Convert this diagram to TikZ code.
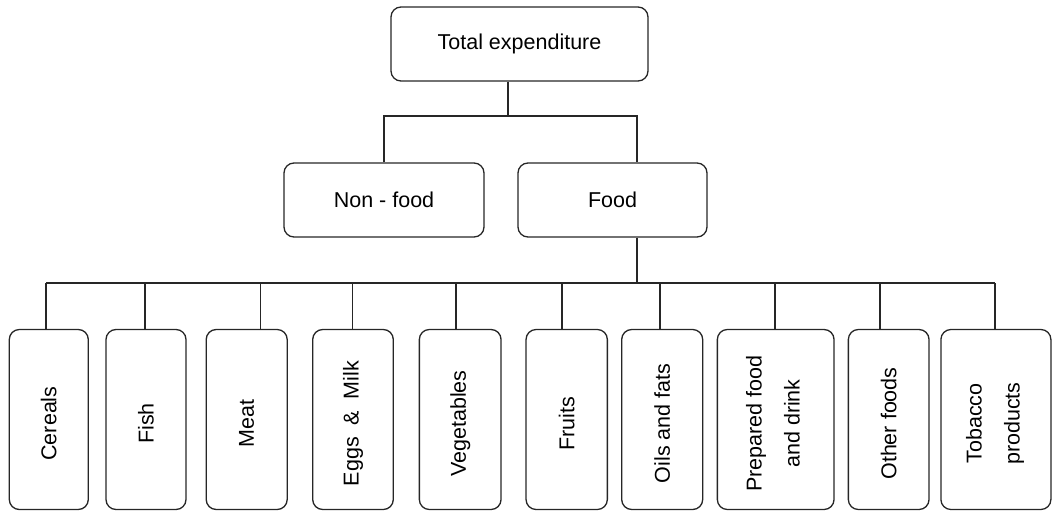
\documentclass[tikz,border=0pt]{standalone}
\usepackage{fontspec}
\setmainfont{Liberation Sans}
\newcommand{\vtext}[1]{\rotatebox{90}{#1\hspace*{8pt}}}
\begin{document}
\begin{tikzpicture}[x=1pt,y=-1pt,
  box/.style={draw=black!85,line width=1.3pt,rounded corners=10pt,inner sep=0pt,
    font=\fontsize{21.5}{24}\selectfont},
  catbox/.style={box,minimum width=#1,minimum height=180},
  link/.style={draw=black!85,line width=1.3pt}]
\useasboundingbox (0,0) rectangle (1053,511);
% upper levels
\node[box,minimum width=257,minimum height=74] (total) at (519.5,44) {Total expenditure};
\node[box,minimum width=200,minimum height=74] (nonfood) at (384,200) {Non - food};
\node[box,minimum width=189,minimum height=74] (food) at (612.5,200) {Food};
% categories
\node[catbox=79]    (cereals) at (48.8,419.5)  {\vtext{Cereals}};
\node[catbox=80]    (fish)    at (146,419.5)   {\vtext{Fish}};
\node[catbox=81]    (meat)    at (246.7,419.5) {\vtext{Meat}};
\node[catbox=80.6]  (eggs)    at (353,419.5)   {\vtext{Eggs \ \& \ Milk}};
\node[catbox=81.7]  (veg)     at (460.2,419.5) {\vtext{Vegetables}};
\node[catbox=81.3]  (fruits)  at (566.7,419.5) {\vtext{Fruits}};
\node[catbox=81]    (oils)    at (662.2,419.5) {\vtext{Oils and fats}};
\node[catbox=116.7] (prep)    at (775.7,419.5) {\vtext{\begin{tabular}{@{}c@{}}Prepared food\\[14pt]and drink\end{tabular}}};
\node[catbox=80.7]  (other)   at (888.7,419.5) {\vtext{Other foods}};
\node[catbox=110]   (tobacco) at (995.9,419.5) {\vtext{\begin{tabular}{@{}c@{}}Tobacco\\[14pt]products\end{tabular}}};
% junctions
\coordinate (j1) at (508,116);
\coordinate (f1) at (637,283);
% top connectors
\draw[link] (total.south -| j1) -- (j1);
\draw[link] (nonfood.north) -- (nonfood.north |- j1) -- (j1 -| f1) -- (food.north -| f1);
\draw[link] (food.south -| f1) -- (f1);
% bus
\coordinate (b1) at (46,283);
\coordinate (b10) at (995,283);
\draw[link] (b1) -- (b10);
\foreach \n/\xx in {cereals/46,fish/145,meat/260.7,eggs/352.7,veg/456,fruits/562,oils/660,prep/775,other/880,tobacco/995}{
  \draw[link] (\xx,283) -- (\n.north -| {(\xx,0)});
}
\end{tikzpicture}
\end{document}
